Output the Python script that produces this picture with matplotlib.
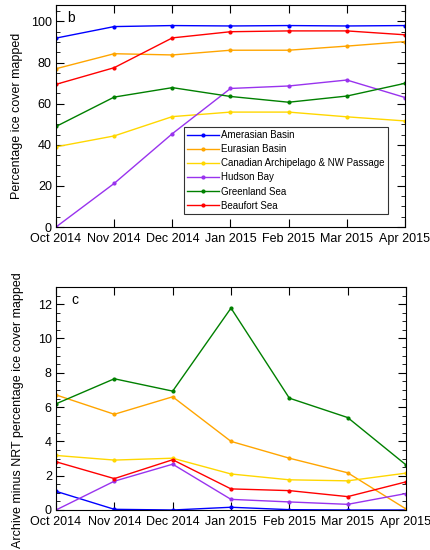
import matplotlib
matplotlib.use("Agg")
import matplotlib.pyplot as plt
from matplotlib.ticker import MultipleLocator

plt.rcParams['font.family'] = ['Liberation Sans', 'DejaVu Sans']

months = ["Oct 2014", "Nov 2014", "Dec 2014", "Jan 2015", "Feb 2015", "Mar 2015", "Apr 2015"]
regions = ["Amerasian Basin", "Eurasian Basin", "Canadian Archipelago & NW Passage",
           "Hudson Bay", "Greenland Sea", "Beaufort Sea"]
colors = ["#0000ff", "#ffa500", "#ffd700", "#9933ee", "#008000", "#ff0000"]

amerasian_b = [91.9, 97.5, 98.0, 97.8, 98.0, 97.8, 98.0]
eurasian_b = [77.0, 84.3, 83.7, 86.0, 86.0, 88.0, 90.2]
canadian_b = [39.0, 44.3, 53.7, 55.9, 55.9, 53.6, 51.6]
hudson_b = [0.0, 21.2, 45.4, 67.4, 68.6, 71.5, 63.0]
greenland_b = [48.9, 63.2, 67.8, 63.5, 60.7, 63.7, 69.9]
beaufort_b = [69.4, 77.5, 92.0, 95.0, 95.4, 95.4, 93.5]

amerasian_c = [1.09, 0.04, 0.0, 0.16, 0.02, 0.0, 0.0]
eurasian_c = [6.71, 5.58, 6.60, 4.00, 3.02, 2.17, 0.06]
canadian_c = [3.18, 2.91, 3.02, 2.10, 1.76, 1.70, 2.15]
hudson_c = [0.0, 1.68, 2.67, 0.62, 0.47, 0.33, 0.96]
greenland_c = [6.19, 7.65, 6.93, 11.77, 6.52, 5.39, 2.63]
beaufort_c = [2.81, 1.83, 2.93, 1.23, 1.13, 0.78, 1.64]

series_b = [amerasian_b, eurasian_b, canadian_b, hudson_b, greenland_b, beaufort_b]
series_c = [amerasian_c, eurasian_c, canadian_c, hudson_c, greenland_c, beaufort_c]

fig = plt.figure(figsize=(4.3, 5.5), dpi=100)
axb = fig.add_axes([56/430, 1-227/550, 349/430, 222/550])
axc = fig.add_axes([56/430, 1-510/550, 350/430, 223/550])

x = list(range(len(months)))

def style(ax, ymax, major, minor, ylabel, label_xy):
    ax.set_xlim(0, len(months) - 1)
    ax.set_ylim(0, ymax)
    ax.set_xticks(x)
    ax.set_xticklabels(months, fontsize=9)
    ax.yaxis.set_major_locator(MultipleLocator(major))
    ax.yaxis.set_minor_locator(MultipleLocator(minor))
    ax.tick_params(axis='both', which='major', direction='in', length=6, width=0.8,
                   top=True, right=True, labelsize=9, pad=3)
    ax.tick_params(axis='x', which='major', pad=4)
    ax.tick_params(axis='y', which='minor', direction='in', length=3, width=0.6,
                   right=True, left=True)
    ax.set_ylabel(ylabel, fontsize=9)
    ax.yaxis.set_label_coords(*label_xy)
    for s in ax.spines.values():
        s.set_linewidth(0.8)

for vals, col, name in zip(series_b, colors, regions):
    axb.plot(x, vals, color=col, lw=1.0, marker='o', ms=2, label=name)
for vals, col, name in zip(series_c, colors, regions):
    axc.plot(x, vals, color=col, lw=1.0, marker='o', ms=2, label=name)

style(axb, 108, 20, 5, "Percentage ice cover mapped", (-(56-23)/349, 0.5))
style(axc, 13, 2, 0.5, "Archive minus NRT percentage ice cover mapped", (-(56-24)/350, 0.45))

axb.text(0.033, 0.975, "b", transform=axb.transAxes, fontsize=10, va='top')
axc.text(0.045, 0.975, "c", transform=axc.transAxes, fontsize=10, va='top')

leg = axb.legend(loc='lower left', bbox_to_anchor=(128/349, 13/222), fontsize=7,
                 frameon=True, fancybox=False, edgecolor='black', handlelength=3.2,
                 handletextpad=0.3, labelspacing=0.42, borderpad=0.35, borderaxespad=0)
leg.get_frame().set_linewidth(0.8)

fig.savefig("out.png", dpi=100)
